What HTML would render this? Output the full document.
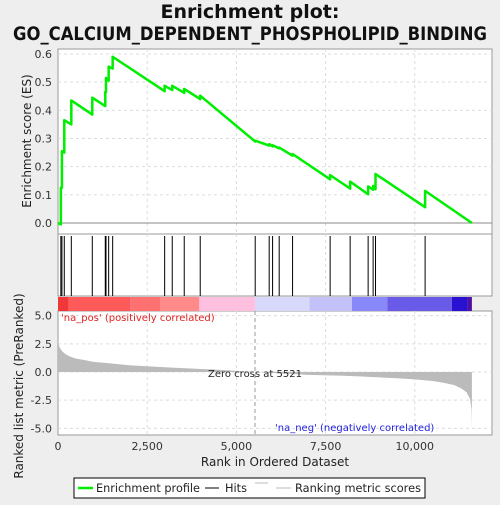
<!DOCTYPE html>
<html><head><meta charset="utf-8"><style>
body{margin:0;background:#eeeeee;width:500px;height:500px;overflow:hidden;font-family:"Liberation Sans","DejaVu Sans",sans-serif}
</style></head><body>
<svg id="c" width="500" height="500" xmlns="http://www.w3.org/2000/svg" style="font-family:'DejaVu Sans','Liberation Sans',sans-serif">
<text x="250" y="18" text-anchor="middle" font-size="19" font-weight="bold" fill="#111">Enrichment plot:</text>
<text x="250" y="40" text-anchor="middle" font-size="19" font-weight="bold" fill="#111" textLength="474" lengthAdjust="spacingAndGlyphs">GO_CALCIUM_DEPENDENT_PHOSPHOLIPID_BINDING</text>
</svg>
<script>
const hitRanks=[80,110,176,373,961,1325,1345,1420,1532,2989,3202,3538,3986,5527,5919,6014,6199,6574,7627,8188,8692,8832,8899,10289];
const esBefore=[-0.005,0.125,0.25,0.35,0.385,0.415,0.465,0.505,0.548,0.468,0.472,0.462,0.44,0.289,0.275,0.272,0.265,0.239,0.155,0.122,0.102,0.118,0.12,0.056];
const esAfter=[0.125,0.255,0.365,0.435,0.445,0.465,0.515,0.555,0.59,0.487,0.487,0.476,0.452,0.292,0.28,0.276,0.268,0.245,0.17,0.147,0.13,0.132,0.174,0.114];
const totalRanks=11600;
const metricRanks=[0,30,100,200,350,500,750,1000,1500,2000,3000,4000,4500,5521,6500,7000,8000,8500,9500,10000,10500,10800,11100,11300,11450,11550,11590,11600];
const metricVals=[2.8,2.3,1.9,1.6,1.35,1.2,1.05,0.9,0.75,0.6,0.42,0.27,0.2,0,-0.17,-0.25,-0.33,-0.4,-0.55,-0.65,-0.8,-0.95,-1.15,-1.45,-1.8,-2.4,-3.3,-5.0];
const xTicks=[0,2500,5000,7500,10000];
const esTicks=[0,0.1,0.2,0.3,0.4,0.5,0.6];
const mTicks=[5,2.5,0,-2.5,-5];
const mTickLabels=["5.0","2.5","0.0","-2.5","-5.0"];
const zeroCross=5521;

const svg=document.getElementById('c');const NS="http://www.w3.org/2000/svg";
const L=58,R=492;
const X=r=>L+r*0.03568;
const YE=v=>223-v*281.7;
const YM=v=>372-v*11.27;
function mk(t,a,p){const e=document.createElementNS(NS,t);for(const k in a)e.setAttribute(k,a[k]);(p||svg).appendChild(e);return e;}
const p1=mk('rect',{x:L,y:49,width:R-L,height:185,fill:'#fff',stroke:'#999'});


const p2=mk('rect',{x:L,y:234,width:R-L,height:62,fill:'#fff',stroke:'#999'});


const p3=mk('rect',{x:L,y:311,width:R-L,height:124,fill:'#fff',stroke:'#999'});


xTicks.forEach(t=>{if(t===0)return;const x=X(t);
 [[49,234],[234,296],[311,435]].forEach(([a,b])=>{const g=mk('line',{x1:x,x2:x,y1:a,y2:b,stroke:'#ddd','stroke-dasharray':'3,3'});});});
esTicks.forEach(t=>{const y=YE(t);const g=mk('line',{x1:L,x2:R,y1:y,y2:y,stroke:t===0?'#888':'#ddd','stroke-dasharray':t===0?'':'3,3'});
 const tl=mk('text',{x:52,y:y+4,'text-anchor':'end','font-size':11,fill:'#333'});tl.textContent=t.toFixed(1);});
mTicks.forEach((t,i)=>{const y=YM(t);const g=mk('line',{x1:L,x2:R,y1:y,y2:y,stroke:'#ddd','stroke-dasharray':'3,3'});
 const tl=mk('text',{x:52,y:y+4,'text-anchor':'end','font-size':11,fill:'#333'});tl.textContent=mTickLabels[i];});
xTicks.forEach(t=>{const tl=mk('text',{x:X(t),y:450,'text-anchor':'middle','font-size':11,fill:'#333'});tl.textContent=t.toLocaleString('en-US');});
const segs=[[0,300,'#f03838'],[300,2020,'#ff5a5a'],[2020,2860,'#ff7070'],[2860,3960,'#ff8a8a'],[3960,5521,'#ffc0e0'],[5521,7050,'#d8d8fa'],[7050,8240,'#c4c0f8'],[8240,9230,'#8888f8'],[9230,11040,'#6a5ae8'],[11040,11480,'#2a10d0'],[11480,11600,'#5010a0']];
segs.forEach(s=>{const r=mk('rect',{x:X(s[0]),y:297,width:X(s[1])-X(s[0]),height:14,fill:s[2]});});
let d='M'+X(0)+','+YM(0);metricRanks.forEach((r,i)=>{d+=' L'+X(r)+','+YM(metricVals[i]);});d+=' L'+X(totalRanks)+','+YM(0)+'Z';
const ma=mk('path',{d:d,fill:'#bbb',stroke:'none'});
const zc=mk('line',{x1:X(zeroCross),x2:X(zeroCross),y1:311,y2:435,stroke:'#999','stroke-dasharray':'4,3'});
const zt=mk('text',{x:X(zeroCross),y:377,'text-anchor':'middle','font-size':10,fill:'#222'});zt.textContent='Zero cross at '+zeroCross;
const pl=mk('text',{x:61,y:321,'font-size':10,fill:'#e02020'});pl.textContent="'na_pos' (positively correlated)";
const nl=mk('text',{x:275,y:431,'font-size':10,fill:'#2020e0'});nl.textContent="'na_neg' (negatively correlated)";
hitRanks.forEach(r=>{const h=mk('line',{x1:X(r),x2:X(r),y1:236,y2:296,stroke:'#000','stroke-width':1});});
let pd='M'+X(0)+','+YE(0);
hitRanks.forEach((r,i)=>{pd+=' L'+X(r)+','+YE(esBefore[i])+' L'+X(r)+','+YE(esAfter[i]);});
pd+=' L'+X(totalRanks)+','+YE(0);
const es=mk('path',{d:pd,fill:'none',stroke:'#00ee00','stroke-width':2.5,'stroke-linejoin':'round'});
const a1=mk('text',{x:0,y:0,transform:'translate(31,141) rotate(-90)','text-anchor':'middle','font-size':12,fill:'#222'});a1.textContent='Enrichment score (ES)';
const a2=mk('text',{x:0,y:0,transform:'translate(23,386) rotate(-90)','text-anchor':'middle','font-size':12,fill:'#222'});a2.textContent='Ranked list metric (PreRanked)';
const a3=mk('text',{x:275,y:466,'text-anchor':'middle','font-size':12,fill:'#222'});a3.textContent='Rank in Ordered Dataset';
const lg=mk('g',{});
mk('rect',{x:74,y:478,width:351,height:20,fill:'#fff',stroke:'#000'},lg);
mk('line',{x1:78,x2:93,y1:488,y2:488,stroke:'#00ee00','stroke-width':2.5},lg);
let t=mk('text',{x:96,y:492,'font-size':11.5,fill:'#222',textLength:104,lengthAdjust:'spacingAndGlyphs'},lg);t.textContent='Enrichment profile';
mk('line',{x1:205,x2:219,y1:488,y2:488,stroke:'#000'},lg);
t=mk('text',{x:225,y:492,'font-size':11.5,fill:'#222',textLength:22,lengthAdjust:'spacingAndGlyphs'},lg);t.textContent='Hits';
mk('line',{x1:255,x2:268,y1:483,y2:483,stroke:'#bbb'},lg);
mk('line',{x1:276,x2:291,y1:488,y2:488,stroke:'#bbb'},lg);
t=mk('text',{x:295,y:492,'font-size':11.5,fill:'#222',textLength:126,lengthAdjust:'spacingAndGlyphs'},lg);t.textContent='Ranking metric scores';
</script>
</body></html>
